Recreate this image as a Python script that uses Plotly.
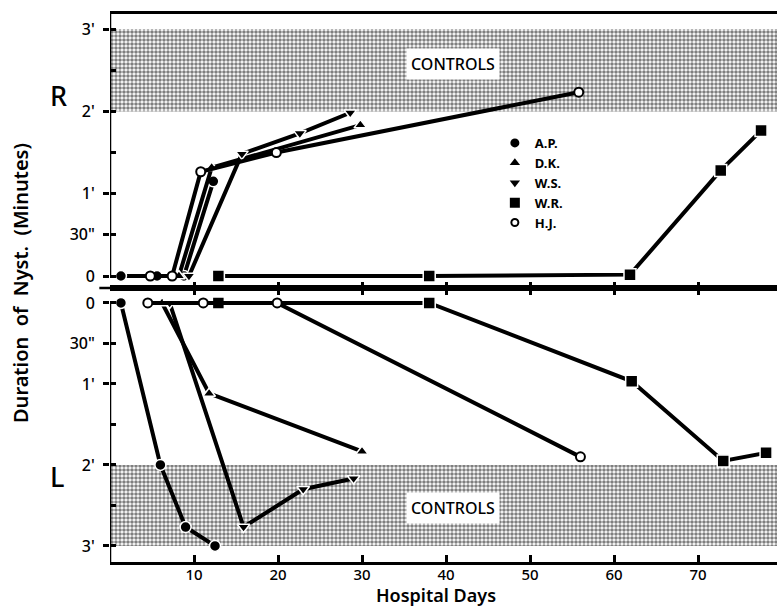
import plotly.graph_objects as go

# ---------------- data (seconds of nystagmus vs hospital day) ----------------
PATIENTS = ["A.P.", "D.K.", "W.S.", "W.R.", "H.J."]

# Right ear (top panel)
AP_R_DAYS = [1.3, 5.6, 8.8, 12.3]
AP_R_SEC = [0, 0, 0, 69]
DK_R_DAYS = [8.2, 12.1, 29.8]
DK_R_SEC = [0, 79, 110]
WS_R_DAYS = [9.4, 15.7, 22.6, 28.6]
WS_R_SEC = [0, 89, 104, 119]
WR_R_DAYS = [12.9, 38.0, 61.9, 72.7, 77.5]
WR_R_SEC = [0, 0, 1, 77, 106]
HJ_R_DAYS = [4.8, 7.4, 10.8, 19.8, 55.8]
HJ_R_SEC = [0, 0, 76, 90, 134]

# Left ear (bottom panel)
AP_L_DAYS = [1.3, 6.0, 9.0, 12.5]
AP_L_SEC = [0, 120, 166, 180]
DK_L_DAYS = [6.2, 11.8, 30.0]
DK_L_SEC = [0, 67, 110]
WS_L_DAYS = [7.1, 15.9, 23.0, 29.0]
WS_L_SEC = [0, 166, 138, 130]
WR_L_DAYS = [12.9, 38.0, 62.1, 73.0, 78.1]
WR_L_SEC = [0, 0, 58, 117, 111]
HJ_L_DAYS = [4.5, 11.1, 19.9, 56.0]
HJ_L_SEC = [0, 0, 0, 114]

CONTROL_RANGE = [120, 180]          # seconds (2' to 3')
X_RANGE = [0, 79.4]
X_TICKS = [10, 20, 30, 40, 50, 60, 70]
Y_TICKS = [0, 30, 60, 90, 120, 150, 180]
Y_TICKTEXT = ["0", '30"', "1'", "", "2'", "", "3'"]

SYMBOLS = {"A.P.": "circle", "D.K.": "triangle-up", "W.S.": "triangle-down",
           "W.R.": "square", "H.J.": "circle"}
SIZES = {"A.P.": 11, "D.K.": 11, "W.S.": 11, "W.R.": 12, "H.J.": 9}

R_DATA = {"A.P.": (AP_R_DAYS, AP_R_SEC), "D.K.": (DK_R_DAYS, DK_R_SEC),
          "W.S.": (WS_R_DAYS, WS_R_SEC), "W.R.": (WR_R_DAYS, WR_R_SEC),
          "H.J.": (HJ_R_DAYS, HJ_R_SEC)}
L_DATA = {"A.P.": (AP_L_DAYS, AP_L_SEC), "D.K.": (DK_L_DAYS, DK_L_SEC),
          "W.S.": (WS_L_DAYS, WS_L_SEC), "W.R.": (WR_L_DAYS, WR_L_SEC),
          "H.J.": (HJ_L_DAYS, HJ_L_SEC)}

FONT = "Noto Sans"
TOP_RANGE = [-8.75, 191]
BOT_RANGE = [191.9, -11.1]

fig = go.Figure()

# control bands (dotted pattern)
for xa, ya in (("x", "y"), ("x2", "y2")):
    fig.add_trace(go.Scatter(
        x=[X_RANGE[0], X_RANGE[1] + 5, X_RANGE[1] + 5, X_RANGE[0], X_RANGE[0]],
        y=[CONTROL_RANGE[0], CONTROL_RANGE[0], CONTROL_RANGE[1], CONTROL_RANGE[1], CONTROL_RANGE[0]],
        fill="toself", mode="lines", line=dict(width=0),
        fillcolor="white",
        fillpattern=dict(shape=".", fgcolor="black", bgcolor="white", size=4, solidity=0.62),
        xaxis=xa, yaxis=ya, showlegend=False, hoverinfo="skip"))


def marker_for(name):
    if name == "H.J.":
        return dict(symbol="circle", size=SIZES[name], color="white",
                    line=dict(color="black", width=2))
    return dict(symbol=SYMBOLS[name], size=SIZES[name], color="black",
                line=dict(color="white", width=1.5))


for data, xa, ya in ((R_DATA, "x", "y"), (L_DATA, "x2", "y2")):
    for name in PATIENTS:
        d, s = data[name]
        fig.add_trace(go.Scatter(
            x=d, y=s, mode="lines+markers", xaxis=xa, yaxis=ya,
            line=dict(color="black", width=4),
            marker=marker_for(name), showlegend=False, name=name,
            cliponaxis=False))

# legend entries
for name in PATIENTS:
    m = marker_for(name)
    m["size"] = SIZES[name] - 2
    if name != "H.J.":
        m["line"] = dict(width=0)
    fig.add_trace(go.Scatter(x=[None], y=[None], mode="markers", name=name,
                             marker=m, xaxis="x", yaxis="y"))

tick_font = dict(family=FONT, size=15, color="black", weight=500)

fig.update_layout(
    width=777, height=610,
    margin=dict(l=110, r=0, t=14, b=48),
    paper_bgcolor="white", plot_bgcolor="white",
    showlegend=True,
    legend=dict(x=0.577, y=0.792, xanchor="left", yanchor="top",
                bgcolor="rgba(0,0,0,0)", tracegroupgap=0,
                font=dict(family=FONT, size=13, color="black", weight=700),
                itemwidth=30),
    xaxis=dict(domain=[0, 1], anchor="y", range=X_RANGE, showgrid=False, zeroline=False,
               showline=True, linecolor="black", linewidth=2.5, mirror=True,
               ticks="inside", ticklen=6, tickwidth=2.5, tickcolor="black",
               tickmode="array", tickvals=X_TICKS, showticklabels=False),
    yaxis=dict(domain=[0.5, 1], anchor="x", range=TOP_RANGE, showgrid=False, zeroline=False,
               showline=False, tickmode="array", tickvals=Y_TICKS, ticktext=Y_TICKTEXT,
               ticks="outside", ticklen=6, tickwidth=2.5, tickcolor="black",
               ticklabelstandoff=5, tickfont=dict(family=FONT, size=16, color="black", weight=500),
               minor=dict(ticks="inside", ticklen=6, tickwidth=2.5, tickcolor="black",
                          tickvals=Y_TICKS)),
    xaxis2=dict(domain=[0, 1], anchor="y2", range=X_RANGE, showgrid=False, zeroline=False,
                showline=True, linecolor="black", linewidth=2.5, mirror="ticks",
                ticks="inside", ticklen=7, tickwidth=2.5, tickcolor="black",
                ticklabelstandoff=-3,
                tickmode="array", tickvals=X_TICKS, tickfont=tick_font),
    yaxis2=dict(domain=[0, 0.5], anchor="x2", range=BOT_RANGE, showgrid=False, zeroline=False,
                showline=False, tickmode="array", tickvals=Y_TICKS, ticktext=Y_TICKTEXT,
                ticks="outside", ticklen=6, tickwidth=2.5, tickcolor="black",
                ticklabelstandoff=5, tickfont=dict(family=FONT, size=16, color="black", weight=500),
                minor=dict(ticks="inside", ticklen=6, tickwidth=2.5, tickcolor="black",
                           tickvals=Y_TICKS)),
)

# left axis lines (top: 0 -> top border; bottom: 0 -> bottom border)
fig.add_shape(type="line", xref="x", yref="y", x0=0, x1=0, y0=0, y1=TOP_RANGE[1],
              line=dict(color="black", width=2.5))
fig.add_shape(type="line", xref="x2", yref="y2", x0=0, x1=0, y0=0, y1=BOT_RANGE[0],
              line=dict(color="black", width=2.5))
# middle axis extends a little to the left
fig.add_shape(type="line", xref="paper", yref="paper", x0=-0.016, x1=0, y0=0.5, y1=0.5,
              line=dict(color="black", width=2.5))

# CONTROLS labels
for xa, ya, yv in (("x", "y", 154.5), ("x2", "y2", 152)):
    fig.add_annotation(x=40.8, y=yv, xref=xa, yref=ya, text="CONTROLS", showarrow=False,
                       bgcolor="white", borderpad=4,
                       font=dict(family=FONT, size=16, color="black", weight=500))

# R / L labels
fig.add_annotation(x=-0.093, y=0.889, xref="paper", yref="paper", text="R", showarrow=False,
                   font=dict(family=FONT, size=27, color="black", weight=500))
fig.add_annotation(x=-0.093, y=0.119, xref="paper", yref="paper", text="L", showarrow=False,
                   font=dict(family=FONT, size=27, color="black", weight=500))

# axis titles
fig.add_annotation(x=-0.135, y=0.509, xref="paper", yref="paper", xanchor="center",
                   yanchor="middle",
                   text="Duration  of  Nyst.  (Minutes)", textangle=-90, showarrow=False,
                   font=dict(family=FONT, size=20, color="black", weight=600))
fig.add_annotation(x=0.489, y=-0.0858, xref="paper", yref="paper", xanchor="center",
                   yanchor="bottom", text="Hospital Days", showarrow=False,
                   font=dict(family=FONT, size=18, color="black", weight=600))

fig.write_html("out.html")
